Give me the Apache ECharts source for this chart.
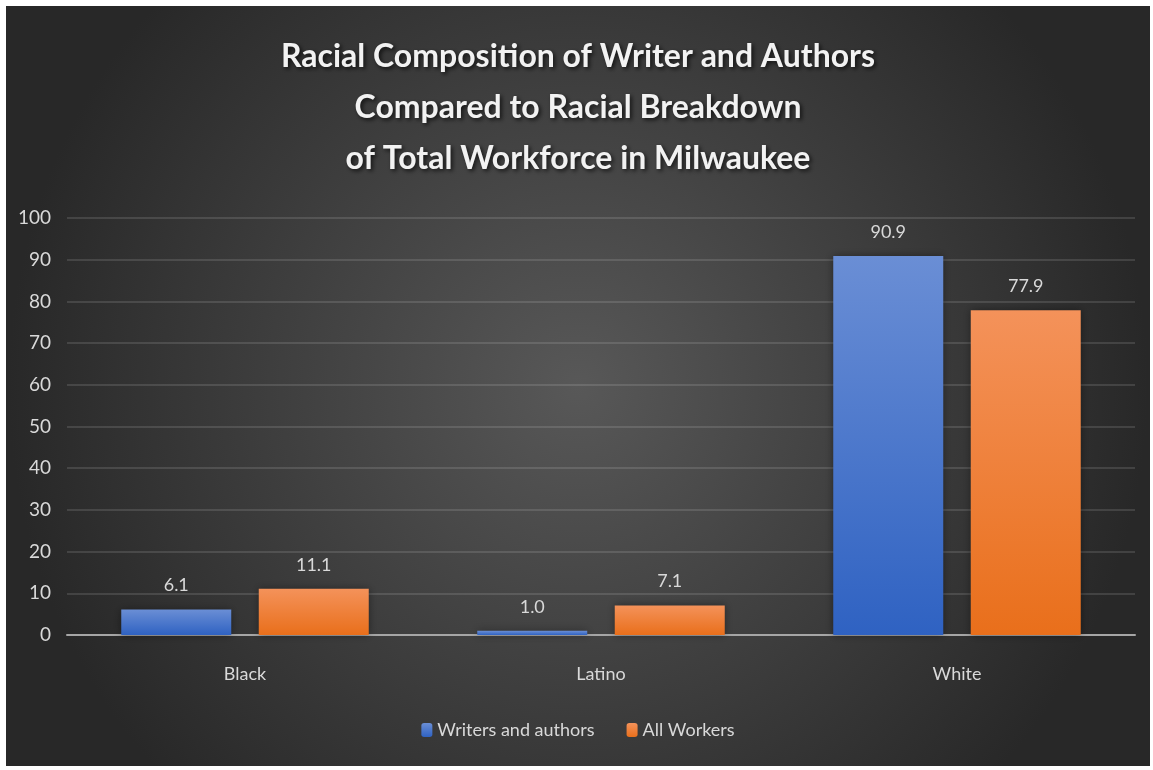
<!DOCTYPE html>
<html>
<head>
<meta charset="utf-8">
<script src="https://cdn.jsdelivr.net/npm/echarts@6/dist/echarts.min.js"></script>
<style>
html,body{margin:0;padding:0;background:#ffffff;width:1153px;height:770px;overflow:hidden;}
#chart{position:absolute;left:6px;top:6px;width:1144px;height:760px;}
</style>
</head>
<body>
<div id="chart"></div>
<script>
const titleLines = ['Racial Composition of Writer and Authors', 'Compared to Racial Breakdown', 'of Total Workforce in Milwaukee'];
const categories = ['Black', 'Latino', 'White'];
const seriesNames = ['Writers and authors', 'All Workers'];
const writersValues = [6.1, 1.0, 90.9];
const allWorkersValues = [11.1, 7.1, 77.9];
const yTicks = [0, 10, 20, 30, 40, 50, 60, 70, 80, 90, 100];

const FONT = 'Lato, "Noto Sans", sans-serif';
const chart = echarts.init(document.getElementById('chart'));

const blueGrad = new echarts.graphic.LinearGradient(0, 0, 0, 1, [
  {offset: 0, color: '#6a8ed5'}, {offset: 1, color: '#2f62c2'}
]);
const orangeGrad = new echarts.graphic.LinearGradient(0, 0, 0, 1, [
  {offset: 0, color: '#f4925a'}, {offset: 1, color: '#e96f1b'}
]);

const labelCfg = {
  show: true, position: 'top', distance: 15,
  color: '#d9d9d9', fontSize: 18, fontFamily: FONT,
  formatter: p => p.value.toFixed(1)
};

chart.setOption({
  backgroundColor: new echarts.graphic.RadialGradient(0.5, 0.5, 0.75, [
    {offset: 0, color: '#585858'}, {offset: 1, color: '#282828'}
  ]),
  title: {
    text: titleLines.join('\n'),
    left: 'center', top: 20,
    textStyle: {
      color: '#f2f2f2', fontSize: 32, fontWeight: 'bold', fontFamily: FONT,
      lineHeight: 51,
      textShadowColor: 'rgba(0,0,0,0.7)', textShadowBlur: 4, textShadowOffsetX: 2, textShadowOffsetY: 2
    }
  },
  legend: {
    data: seriesNames, bottom: 22, left: 'center',
    itemWidth: 11, itemHeight: 14, itemGap: 32,
    textStyle: {color: '#d9d9d9', fontSize: 18, fontFamily: FONT}
  },
  grid: {left: 61, right: 15, top: 212, bottom: 131, containLabel: false},
  xAxis: {
    type: 'category', data: categories,
    axisLine: {show: true, lineStyle: {color: '#a6a6a6', width: 2}},
    axisTick: {show: false},
    axisLabel: {color: '#d9d9d9', fontSize: 18, fontFamily: FONT, margin: 30}
  },
  yAxis: {
    type: 'value', min: yTicks[0], max: yTicks[yTicks.length - 1], interval: 10,
    axisLine: {show: false}, axisTick: {show: false},
    axisLabel: {color: '#d9d9d9', fontSize: 19, fontFamily: FONT, margin: 16},
    splitLine: {lineStyle: {color: 'rgba(255,255,255,0.12)', width: 2}}
  },
  series: [
    {
      name: seriesNames[0], type: 'bar', data: writersValues,
      barWidth: 110, barGap: '25%',
      itemStyle: {color: blueGrad, shadowColor: 'rgba(0,0,0,0.4)', shadowBlur: 8},
      label: labelCfg
    },
    {
      name: seriesNames[1], type: 'bar', data: allWorkersValues,
      barWidth: 110, barGap: '25%',
      itemStyle: {color: orangeGrad, shadowColor: 'rgba(0,0,0,0.4)', shadowBlur: 8},
      label: labelCfg
    }
  ]
});
</script>
</body>
</html>
